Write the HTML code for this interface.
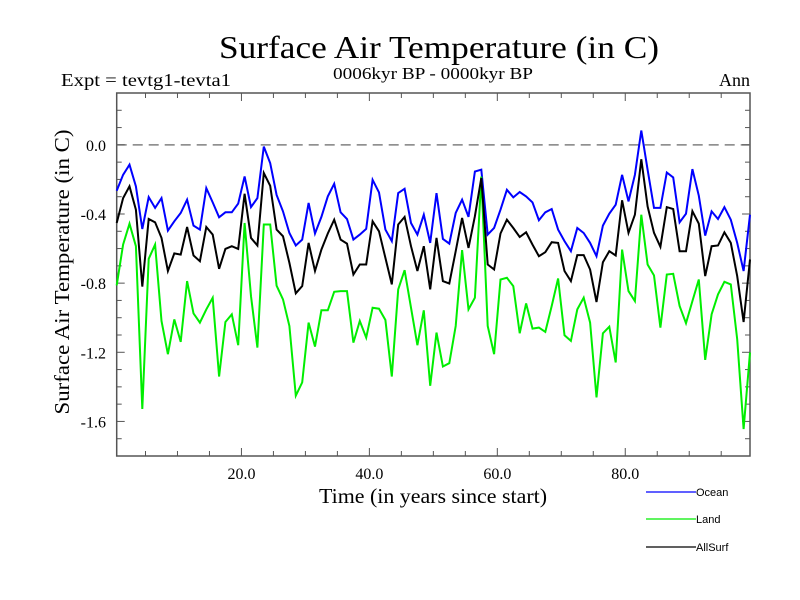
<!DOCTYPE html>
<html><head><meta charset="utf-8"><style>
html,body{margin:0;padding:0;background:#fff;}
svg{display:block;font-family:"Liberation Serif",serif;}
</style></head><body>
<svg id="chart" width="800" height="600" viewBox="0 0 800 600" xmlns="http://www.w3.org/2000/svg">
<rect width="800" height="600" fill="#fff"/>
<text x="439" y="58" font-size="32" text-anchor="middle" textLength="440" lengthAdjust="spacingAndGlyphs">Surface Air Temperature (in C)</text>
<text x="433" y="79" font-size="17" text-anchor="middle" textLength="200" lengthAdjust="spacingAndGlyphs">0006kyr BP - 0000kyr BP</text>
<text x="61" y="86" font-size="18" textLength="170" lengthAdjust="spacingAndGlyphs">Expt = tevtg1-tevta1</text>
<text x="750" y="86" font-size="18" text-anchor="end">Ann</text>
<text transform="translate(69,272) rotate(-90)" font-size="21" text-anchor="middle" textLength="285" lengthAdjust="spacingAndGlyphs">Surface Air Temperature (in C)</text>
<text x="433" y="503" font-size="21" text-anchor="middle" textLength="228" lengthAdjust="spacingAndGlyphs">Time (in years since start)</text>
<g id="axes"></g>
<g id="series"></g>
<g id="legend"></g>
</svg>
<script>
const years = Array.from({length:100},(_,i)=>0.5+i);
const ocean = [-0.265,-0.173,-0.115,-0.24,-0.487,-0.302,-0.365,-0.308,-0.496,-0.442,-0.394,-0.317,-0.467,-0.49,-0.25,-0.333,-0.419,-0.39,-0.39,-0.34,-0.183,-0.36,-0.308,-0.01,-0.106,-0.29,-0.385,-0.51,-0.582,-0.548,-0.336,-0.513,-0.417,-0.298,-0.225,-0.39,-0.429,-0.548,-0.519,-0.486,-0.202,-0.275,-0.49,-0.557,-0.279,-0.254,-0.452,-0.519,-0.404,-0.567,-0.279,-0.544,-0.571,-0.394,-0.317,-0.417,-0.154,-0.144,-0.519,-0.481,-0.375,-0.26,-0.304,-0.273,-0.298,-0.333,-0.436,-0.39,-0.371,-0.49,-0.557,-0.615,-0.481,-0.51,-0.567,-0.644,-0.467,-0.398,-0.346,-0.173,-0.327,-0.173,0.083,-0.144,-0.365,-0.365,-0.16,-0.188,-0.448,-0.398,-0.14,-0.294,-0.525,-0.385,-0.429,-0.36,-0.433,-0.567,-0.73,-0.404];
const land = [-0.813,-0.577,-0.456,-0.586,-1.528,-0.659,-0.577,-1.019,-1.211,-1.01,-1.14,-0.788,-0.975,-1.028,-0.952,-0.885,-1.34,-1.025,-0.98,-1.159,-0.452,-0.875,-1.173,-0.461,-0.461,-0.815,-0.894,-1.048,-1.451,-1.374,-1.028,-1.167,-0.957,-0.957,-0.85,-0.846,-0.846,-1.144,-1.019,-1.115,-0.942,-0.948,-1.013,-1.34,-0.836,-0.725,-0.942,-1.159,-0.957,-1.394,-1.086,-1.282,-1.263,-1.048,-0.609,-0.952,-0.884,-0.183,-1.048,-1.211,-0.779,-0.769,-0.817,-1.09,-0.917,-1.063,-1.057,-1.082,-0.932,-0.773,-1.101,-1.134,-0.952,-0.884,-1.028,-1.461,-1.09,-1.052,-1.259,-0.606,-0.846,-0.904,-0.404,-0.692,-0.755,-1.057,-0.75,-0.746,-0.932,-1.032,-0.904,-0.779,-1.244,-0.98,-0.865,-0.792,-0.807,-1.125,-1.644,-1.201];
const allsurf = [-0.452,-0.308,-0.24,-0.375,-0.82,-0.429,-0.448,-0.538,-0.73,-0.628,-0.635,-0.475,-0.64,-0.673,-0.475,-0.519,-0.717,-0.602,-0.586,-0.602,-0.283,-0.538,-0.582,-0.163,-0.237,-0.49,-0.529,-0.683,-0.859,-0.817,-0.567,-0.73,-0.606,-0.513,-0.433,-0.548,-0.571,-0.75,-0.692,-0.692,-0.442,-0.5,-0.654,-0.807,-0.461,-0.417,-0.586,-0.73,-0.586,-0.836,-0.538,-0.788,-0.802,-0.615,-0.423,-0.596,-0.413,-0.192,-0.692,-0.721,-0.513,-0.433,-0.481,-0.533,-0.506,-0.577,-0.644,-0.621,-0.563,-0.567,-0.73,-0.788,-0.638,-0.638,-0.721,-0.909,-0.679,-0.615,-0.64,-0.321,-0.509,-0.404,-0.083,-0.356,-0.509,-0.59,-0.36,-0.371,-0.615,-0.615,-0.384,-0.456,-0.759,-0.586,-0.582,-0.506,-0.567,-0.759,-1.025,-0.663];
const xTicks = [20,40,60,80];
const xTickLabels = ["20.0","40.0","60.0","80.0"];
const yTicks = [0,-0.4,-0.8,-1.2,-1.6];
const yTickLabels = ["0.0","-0.4","-0.8","-1.2","-1.6"];
const seriesNames = ["Ocean","Land","AllSurf"];

const NS="http://www.w3.org/2000/svg";
const L=116.7,R=750,T=93,B=456,XMIN=0.5,XMAX=99.5,YMIN=-1.8,YMAX=0.3;
const sx=v=>L+(v-XMIN)/(XMAX-XMIN)*(R-L);
const sy=v=>B-(v-YMIN)/(YMAX-YMIN)*(B-T);
function mk(tag,attrs,parent){const e=document.createElementNS(NS,tag);for(const k in attrs)e.setAttribute(k,attrs[k]);parent.appendChild(e);return e;}
const axes=document.getElementById('axes');
const frame=mk('rect',{x:L,y:T,width:R-L,height:B-T,fill:'none',stroke:'#555','stroke-width':1.5},axes);


const zl=mk('line',{x1:L,x2:R,y1:sy(0),y2:sy(0),stroke:'#808080','stroke-width':1.5,'stroke-dasharray':'10,6'},axes);


for(let v=5;v<100;v+=5){
  const major=v%20===0, len=major?8:5;
  const x=sx(v);
  const t1=mk('line',{x1:x,x2:x,y1:B,y2:B-len,stroke:'#555'},axes);
  
  
  const t2=mk('line',{x1:x,x2:x,y1:T,y2:T+len,stroke:'#555'},axes);
  
  
}
for(let k=-17;k<=3;k++){
  const v=k/10, major=(k%4===0), len=major?8:5, y=sy(v);
  const t1=mk('line',{x1:L,x2:L+len,y1:y,y2:y,stroke:'#555'},axes);
  
  
  const t2=mk('line',{x1:R,x2:R-len,y1:y,y2:y,stroke:'#555'},axes);
  
  
}
xTicks.forEach((v,i)=>{
  const t=mk('text',{x:sx(v),y:479,'font-size':16,'text-anchor':'middle'},axes);
  t.textContent=xTickLabels[i];
  
  
});
yTicks.forEach((v,i)=>{
  const t=mk('text',{x:106,y:sy(v)+6,'font-size':16,'text-anchor':'end'},axes);
  t.textContent=yTickLabels[i];
  
  
});
const sg=document.getElementById('series');
const colors=['#0000ff','#00ee00','#000000'];
[ocean,land,allsurf].forEach((arr,si)=>{
  const pts=arr.map((v,i)=>sx(years[i]).toFixed(1)+','+sy(v).toFixed(1)).join(' ');
  const p=mk('polyline',{points:pts,fill:'none',stroke:colors[si],'stroke-width':2,'stroke-linejoin':'miter'},sg);
  
  
});
const lg=document.getElementById('legend');
seriesNames.forEach((n,i)=>{
  const y=[492,519,547][i];
  const ln=mk('line',{x1:646,x2:696,y1:y,y2:y,stroke:colors[i],'stroke-width':1.2},lg);
  
  
  const t=mk('text',{x:696,y:y+4,'font-size':11,'font-family':'Liberation Sans, sans-serif'},lg);
  t.textContent=n;
  
  
});
</script>
</body></html>
